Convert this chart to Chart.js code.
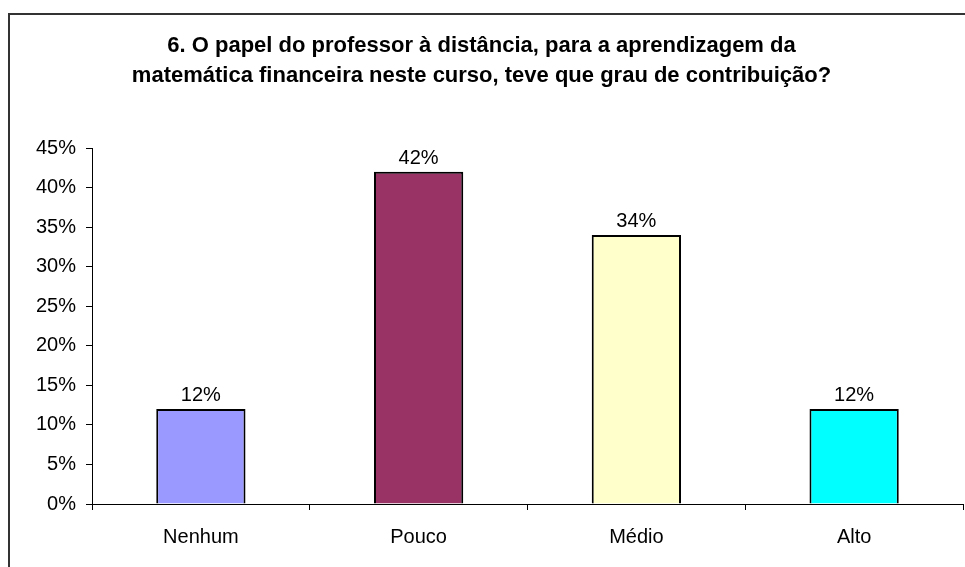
<!DOCTYPE html>
<html>
<head>
<meta charset="utf-8">
<script src="https://cdn.jsdelivr.net/npm/chart.js@4"></script>
<style>
    html, body { margin: 0; padding: 0; background: #fff; }
    #wrap { width: 965px; height: 567px; }
</style>
</head>
<body>
<div id="wrap"><canvas id="grafico"></canvas></div>
<script>
const categorias = ['Nenhum', 'Pouco', 'Médio', 'Alto'];
const percentuais = [12, 42, 34, 12];
const cores = ['#9999ff', '#993366', '#ffffcc', '#00ffff'];
const titulo = [
    '6. O papel do professor à distância, para a aprendizagem da',
    'matemática financeira neste curso, teve que grau de contribuição?'
];

// moldura cinza em volta do grafico (so aparecem topo e esquerda)
const moldura = {
    id: 'moldura',
    beforeDraw(chart) {
        const ctx = chart.ctx;
        ctx.save();
        ctx.strokeStyle = '#333333';
        ctx.lineWidth = 2;
        ctx.strokeRect(9, 14, 980, 600);
        ctx.restore();
    }
};

// rotulos de valor acima das barras
const rotulos = {
    id: 'rotulos',
    afterDatasetsDraw(chart) {
        const ctx = chart.ctx;
        const meta = chart.getDatasetMeta(0);
        ctx.save();
        ctx.font = '20px "Liberation Sans", Arial, sans-serif';
        ctx.fillStyle = '#000';
        ctx.textAlign = 'center';
        ctx.textBaseline = 'alphabetic';
        meta.data.forEach((bar, i) => {
            ctx.fillText(percentuais[i] + '%', bar.x, bar.y - 8);
        });
        ctx.restore();
    }
};

const grafico = document.getElementById('grafico');

new Chart(grafico, {
    type: 'bar',
    data: {
        labels: categorias,
        datasets: [{
            data: percentuais,
            backgroundColor: cores,
            borderColor: '#000000',
            borderWidth: 2,
            categoryPercentage: 1,
            barPercentage: 0.41
        }]
    },
    options: {
        responsive: true,
        maintainAspectRatio: false,
        animation: false,
        layout: {
            padding: { left: 0, right: 2, top: 0, bottom: 3 }
        },
        scales: {
            x: {
                grid: {
                    drawOnChartArea: false,
                    drawTicks: true,
                    tickLength: 6,
                    color: '#000'
                },
                border: { display: true, color: '#000', width: 1 },
                ticks: {
                    color: '#000',
                    padding: 15,
                    font: { family: '"Liberation Sans", Arial', size: 20 }
                }
            },
            y: {
                min: 0,
                max: 45,
                afterFit(scale) {
                    scale.width = 92;
                },
                grid: {
                    drawOnChartArea: false,
                    drawTicks: true,
                    tickLength: 6,
                    color: '#000'
                },
                border: { display: true, color: '#000', width: 1 },
                ticks: {
                    stepSize: 5,
                    color: '#000',
                    padding: 10,
                    callback: v => v + '%',
                    font: { family: '"Liberation Sans", Arial', size: 20 }
                }
            }
        },
        plugins: {
            legend: { display: false },
            tooltip: { enabled: false },
            title: {
                display: true,
                text: titulo,
                color: '#000',
                padding: { top: 31, bottom: 57 },
                font: {
                    family: '"Liberation Sans", Arial',
                    size: 22,
                    weight: 'bold',
                    lineHeight: 30 / 22
                }
            }
        }
    },
    plugins: [moldura, rotulos]
});
</script>
</body>
</html>
